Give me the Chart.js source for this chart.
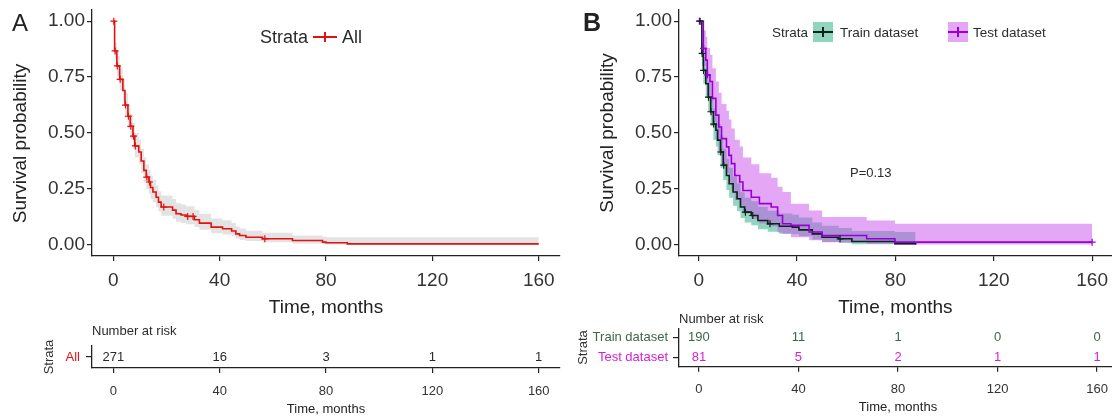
<!DOCTYPE html>
<html><head><meta charset="utf-8">
<script src="https://cdn.jsdelivr.net/npm/chart.js@4.4.1/dist/chart.umd.min.js"></script>
<style>
html,body{margin:0;padding:0;background:#fff;}
body{width:1112px;height:420px;position:relative;overflow:hidden;font-family:"Liberation Sans",Arial,Helvetica,sans-serif;color:#2b2b2b;}
canvas{position:absolute;}
.t{position:absolute;white-space:nowrap;line-height:1;}
.sw{position:absolute;}
.sw .h{position:absolute;left:0;right:0;top:50%;height:2px;margin-top:-1px;}
.sw .v{position:absolute;top:50%;left:50%;width:2px;height:10px;margin-left:-1px;margin-top:-5px;}
</style></head><body>
<canvas id="cA" width="570" height="319" style="left:0;top:0"></canvas>
<canvas id="tA" width="570" height="120" style="left:0;top:300px"></canvas>
<canvas id="cB" width="547" height="319" style="left:570px;top:0"></canvas>
<canvas id="tB" width="547" height="120" style="left:570px;top:300px"></canvas>

<div class="t" style="left:12px;top:11px;font-size:24px;color:#222">A</div>
<div class="t" style="left:583px;top:10px;font-size:25px;font-weight:bold;color:#222">B</div>

<div class="t" style="left:260px;top:28px;font-size:18px">Strata</div>
<div class="sw" style="left:313px;top:29px;width:24px;height:16px"><div class="h" style="background:#e3120f"></div><div class="v" style="background:#e3120f"></div></div>
<div class="t" style="left:342px;top:28px;font-size:18px">All</div>

<div class="t" style="left:772px;top:25.5px;font-size:13.5px">Strata</div>
<div class="sw" style="left:813px;top:22px;width:20px;height:20px;background:#90d5bd"><div class="h" style="background:#0d2218"></div><div class="v" style="background:#0d2218"></div></div>
<div class="t" style="left:840px;top:25.5px;font-size:13.5px">Train dataset</div>
<div class="sw" style="left:948px;top:22px;width:20px;height:20px;background:#e3a7f5"><div class="h" style="background:#9600d6"></div><div class="v" style="background:#9600d6"></div></div>
<div class="t" style="left:973px;top:25.5px;font-size:13.5px">Test dataset</div>

<div class="t" style="left:850px;top:165.5px;font-size:13px">P=0.13</div>

<div class="t" style="left:92px;top:323.5px;font-size:13px">Number at risk</div>
<div class="t" style="left:679px;top:311.5px;font-size:13px">Number at risk</div>

<script>
// ---------- shared ticks ----------
const tickMonths = [0, 40, 80, 120, 160];
const yTicks = [0, 0.25, 0.5, 0.75, 1];

// ---------- Panel A: all patients ----------
const timeAll  = [0, 0.5, 1.35, 2.4, 3.6, 4.4, 5.5, 6.4, 7.4, 8.1, 9.6, 10.5, 11.5, 12.4, 13.4, 14.0, 14.9, 16.1, 17.0, 18.0, 22.3, 23.6, 25.5, 27.4, 30.5, 32.4, 36.8, 41.1, 44.5, 46.1, 47.5, 49.9, 56.1, 67.4, 78.7, 80.0, 88.0, 160];
const survAll  = [1, 0.867, 0.800, 0.740, 0.690, 0.625, 0.575, 0.530, 0.486, 0.442, 0.415, 0.375, 0.333, 0.303, 0.281, 0.256, 0.236, 0.213, 0.191, 0.169, 0.155, 0.139, 0.133, 0.127, 0.112, 0.097, 0.079, 0.072, 0.062, 0.049, 0.042, 0.034, 0.027, 0.019, 0.012, 0.009, 0.004, 0.004];
const upperAll = [1, 0.905, 0.845, 0.790, 0.740, 0.680, 0.630, 0.585, 0.545, 0.500, 0.470, 0.430, 0.390, 0.360, 0.335, 0.310, 0.290, 0.265, 0.240, 0.220, 0.205, 0.187, 0.180, 0.173, 0.156, 0.139, 0.118, 0.110, 0.098, 0.082, 0.073, 0.063, 0.054, 0.042, 0.036, 0.034, 0.034, 0.034];
const lowerAll = [1, 0.830, 0.755, 0.690, 0.640, 0.570, 0.520, 0.475, 0.430, 0.390, 0.360, 0.320, 0.280, 0.250, 0.230, 0.205, 0.190, 0.168, 0.150, 0.130, 0.117, 0.103, 0.098, 0.092, 0.080, 0.067, 0.052, 0.046, 0.038, 0.028, 0.022, 0.017, 0.012, 0.006, 0.002, 0.001, 0, 0];
const censorAll = [0.2, 0.7, 1.5, 2.6, 4.6, 5.7, 6.6, 7.6, 8.3, 12.6, 13.6, 19.0, 28.0, 30.0, 57.0];
const riskAll = [271, 16, 3, 1, 1];

// ---------- Panel B: train dataset ----------
const timeTrain  = [0, 1.3, 1.9, 2.9, 3.9, 4.9, 6.0, 7.0, 7.7, 8.9, 10.0, 11.3, 12.4, 14.0, 15.6, 17.0, 18.7, 21.4, 24.1, 28.1, 32.8, 38.1, 40.8, 46.2, 50.2, 57.0, 62.3, 79.8, 88.2];
const survTrain  = [1, 0.856, 0.780, 0.720, 0.660, 0.595, 0.540, 0.512, 0.468, 0.415, 0.356, 0.310, 0.273, 0.236, 0.206, 0.169, 0.146, 0.131, 0.109, 0.094, 0.083, 0.079, 0.067, 0.049, 0.034, 0.027, 0.015, 0.005, 0];
const upperTrain = [1, 0.905, 0.840, 0.785, 0.730, 0.665, 0.610, 0.585, 0.540, 0.490, 0.430, 0.385, 0.345, 0.305, 0.275, 0.235, 0.210, 0.195, 0.170, 0.152, 0.140, 0.135, 0.122, 0.100, 0.085, 0.075, 0.062, 0.057, 0.057];
const lowerTrain = [1, 0.800, 0.720, 0.655, 0.595, 0.530, 0.470, 0.440, 0.400, 0.345, 0.290, 0.245, 0.210, 0.175, 0.150, 0.120, 0.100, 0.088, 0.070, 0.058, 0.050, 0.047, 0.038, 0.024, 0.013, 0.008, 0.002, 0, 0];
const censorTrain = [0.6, 1.4, 2.0, 4.0, 5.0, 6.1, 9.0, 10.2, 19.0, 22.0, 29.0, 57.5];
const riskTrain = [190, 11, 1, 0, 0];

// ---------- Panel B: test dataset ----------
const timeTest  = [0, 1.9, 2.9, 3.5, 4.6, 5.6, 7.0, 8.2, 9.3, 11.3, 12.3, 13.3, 14.7, 16.7, 18.0, 21.4, 24.7, 29.5, 32.1, 34.1, 37.5, 44.9, 50.2, 68.3, 79.8, 160];
const survTest  = [1, 0.878, 0.826, 0.760, 0.730, 0.655, 0.580, 0.527, 0.475, 0.438, 0.400, 0.363, 0.310, 0.281, 0.243, 0.213, 0.184, 0.169, 0.131, 0.094, 0.087, 0.057, 0.042, 0.027, 0.012, 0.012];
const upperTest = [1, 0.960, 0.930, 0.880, 0.850, 0.790, 0.730, 0.680, 0.630, 0.600, 0.560, 0.520, 0.470, 0.440, 0.390, 0.360, 0.320, 0.300, 0.260, 0.236, 0.184, 0.154, 0.124, 0.109, 0.094, 0.094];
const lowerTest = [1, 0.800, 0.740, 0.670, 0.635, 0.550, 0.470, 0.415, 0.360, 0.320, 0.280, 0.245, 0.200, 0.175, 0.140, 0.115, 0.095, 0.082, 0.055, 0.050, 0.034, 0.020, 0.012, 0.005, 0.0015, 0.0015];
const censorTest = [0.3, 2.0, 3.6, 160];
const riskTest = [81, 5, 2, 1, 1];

// ---------- helpers ----------
const FONT = '"Liberation Sans", Arial, Helvetica, sans-serif';
Chart.defaults.font.family = FONT;
const AXIS = '#222';
const TXT = '#333';

function pts(t, v) { return t.map((x, i) => ({ x: x, y: v[i] })); }
function stepAt(t, v, x) { let y = v[0]; for (let i = 0; i < t.length; i++) { if (t[i] <= x) y = v[i]; } return y; }

function bandSets(t, lo, hi, color, order) {
  return [
    { data: pts(t, lo), stepped: true, borderWidth: 0, borderColor: 'transparent', pointRadius: 0, fill: false, order: order },
    { data: pts(t, hi), stepped: true, borderWidth: 0, borderColor: 'transparent', pointRadius: 0, fill: '-1', backgroundColor: color, order: order }
  ];
}
function lineSet(t, s, color, order) {
  return { data: pts(t, s), stepped: true, borderColor: color, borderWidth: 1.6, pointRadius: 0, fill: false, order: order };
}
function censorSet(cens, t, s, color) {
  return { data: cens.map(c => ({ x: c, y: stepAt(t, s, c) })), showLine: false, pointStyle: 'cross',
    pointRadius: 3.5, pointBorderWidth: 1.2, borderColor: color, pointBorderColor: color, backgroundColor: color, order: 0 };
}

function xScale(o) {
  return {
    type: 'linear', min: -8, max: 168,
    afterBuildTicks: s => { s.ticks = tickMonths.map(v => ({ value: v })); },
    afterFit: s => { s.height = o.height; s.paddingLeft = 0; s.paddingRight = 0; },
    border: { display: true, color: AXIS, width: 1.3 },
    grid: { display: true, drawOnChartArea: false, drawTicks: true, tickLength: 5, color: AXIS, lineWidth: 1.2 },
    ticks: { font: { size: o.tickSize }, color: TXT, padding: o.tickPad, maxRotation: 0, autoSkip: false },
    title: { display: true, text: 'Time, months', font: { size: o.titleSize }, color: '#222', padding: { top: 0, bottom: o.titlePadB } }
  };
}

function mainChart(id, datasets, o) {
  return new Chart(document.getElementById(id), {
    type: 'line',
    data: { datasets: datasets },
    options: {
      responsive: false, animation: false, events: [], devicePixelRatio: 1,
      layout: { padding: { left: 0, top: 10, right: o.padRight, bottom: 0 } },
      plugins: { legend: { display: false }, tooltip: { enabled: false } },
      scales: {
        x: xScale({ height: 63, tickSize: 19, tickPad: 7.9, titleSize: 19, titlePadB: 0 }),
        y: {
          type: 'linear', min: -0.05, max: 1.05,
          afterBuildTicks: s => { s.ticks = yTicks.map(v => ({ value: v })); },
          afterFit: s => { s.width = o.yWidth; s.paddingTop = 0; s.paddingBottom = 0; },
          border: { display: true, color: AXIS, width: 1.3 },
          grid: { display: true, drawOnChartArea: false, drawTicks: true, tickLength: 5, color: AXIS, lineWidth: 1.2 },
          ticks: { font: { size: 19 }, color: TXT, padding: 2, callback: v => Number(v).toFixed(2) },
          title: { display: true, text: o.yTitle, font: { size: 19 }, color: '#222', padding: { top: o.yTitlePad, bottom: 0 } }
        }
      }
    }
  });
}

const riskText = {
  id: 'riskText',
  afterDatasetsDraw(chart) {
    const ctx = chart.ctx;
    ctx.save();
    ctx.font = '13px ' + FONT;
    ctx.textAlign = 'center';
    ctx.textBaseline = 'middle';
    chart.data.datasets.forEach((ds, i) => {
      const meta = chart.getDatasetMeta(i);
      ctx.fillStyle = ds.textColor;
      meta.data.forEach((el, j) => { ctx.fillText(String(ds.data[j].n), el.x, el.y); });
    });
    ctx.restore();
  }
};

function tableChart(id, rows, o) {
  const labelOf = {}, colorOf = {};
  rows.forEach(r => { labelOf[r.row] = r.label; colorOf[r.row] = r.color; });
  return new Chart(document.getElementById(id), {
    type: 'scatter',
    data: { datasets: rows.map(r => ({ data: tickMonths.map((t, i) => ({ x: t, y: r.row, n: r.values[i] })), pointRadius: 0, textColor: r.numColor })) },
    plugins: [riskText],
    options: {
      responsive: false, animation: false, events: [], devicePixelRatio: 1,
      layout: { padding: { left: o.padLeft, top: o.padTop, right: o.padRight, bottom: 0 } },
      plugins: { legend: { display: false }, tooltip: { enabled: false } },
      scales: {
        x: xScale({ height: o.xHeight, tickSize: 13, tickPad: o.tickPad, titleSize: 13, titlePadB: o.titlePadB }),
        y: {
          type: 'linear', min: 0.5, max: rows.length + 0.5,
          afterBuildTicks: s => { s.ticks = rows.map(r => ({ value: r.row })); },
          afterFit: s => { s.width = o.yWidth; s.paddingTop = 0; s.paddingBottom = 0; },
          border: { display: true, color: AXIS, width: 1.3 },
          grid: { display: true, drawOnChartArea: false, drawTicks: true, tickLength: 6, color: AXIS, lineWidth: 1.2 },
          ticks: { font: { size: 13 }, padding: o.labelPad, callback: v => labelOf[v], color: c => colorOf[c.tick.value] },
          title: { display: true, text: 'Strata', font: { size: 13 }, color: TXT, padding: { top: o.yTitlePad, bottom: 0 } }
        }
      }
    }
  });
}

// ---------- Panel A ----------
mainChart('cA', [
  ...bandSets(timeAll, lowerAll, upperAll, 'rgba(200,200,200,0.5)', 10),
  lineSet(timeAll, survAll, '#e3120f', 1),
  censorSet(censorAll, timeAll, survAll, '#e3120f')
], { padRight: 10, yWidth: 92, yTitle: 'Survival probability    ', yTitlePad: 9.6 });

tableChart('tA', [
  { row: 1, label: 'All', values: riskAll, color: '#e3120f', numColor: '#2b2b2b' }
], { padLeft: 42, padTop: 46, padRight: 10, yWidth: 50, xHeight: 52, tickPad: 10.9, titlePadB: 2.9, labelPad: 6, yTitlePad: 0 });

// ---------- Panel B ----------
mainChart('cB', [
  ...bandSets(timeTrain, lowerTrain, upperTrain, 'rgba(70,185,145,0.6)', 12),
  ...bandSets(timeTest, lowerTest, upperTest, 'rgba(200,80,235,0.5)', 11),
  lineSet(timeTrain, survTrain, '#0d2218', 2),
  lineSet(timeTest, survTest, '#9600d6', 1),
  censorSet(censorTrain, timeTrain, survTrain, '#0d2218'),
  censorSet(censorTest, timeTest, survTest, '#9600d6')
], { padRight: 0, yWidth: 109, yTitle: 'Survival probability', yTitlePad: 26.6 });

tableChart('tB', [
  { row: 2, label: 'Train dataset', values: riskTrain, color: '#3d6647', numColor: '#3d6647' },
  { row: 1, label: 'Test dataset', values: riskTest, color: '#d41fd4', numColor: '#d41fd4' }
], { padLeft: 0, padTop: 28.3, padRight: 0, yWidth: 109, xHeight: 53.3, tickPad: 9.8, titlePadB: 4.5, labelPad: 5, yTitlePad: 5.2 });
</script>
</body></html>
